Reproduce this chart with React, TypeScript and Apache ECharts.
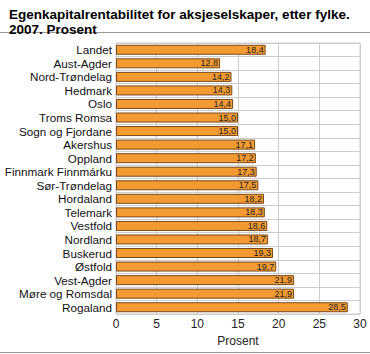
import React, { useEffect, useRef } from "react";
import * as echarts from "echarts";

const categories = [
  "Landet", "Aust-Agder", "Nord-Trøndelag", "Hedmark", "Oslo", "Troms Romsa",
  "Sogn og Fjordane", "Akershus", "Oppland", "Finnmark Finnmárku", "Sør-Trøndelag",
  "Hordaland", "Telemark", "Vestfold", "Nordland", "Buskerud", "Østfold",
  "Vest-Agder", "Møre og Romsdal", "Rogaland",
];
const values = [
  18.4, 12.8, 14.2, 14.3, 14.4, 15.0, 15.0, 17.1, 17.2, 17.3, 17.5,
  18.2, 18.3, 18.6, 18.7, 19.3, 19.7, 21.9, 21.9, 28.5,
];
const xTicks = [0, 5, 10, 15, 20, 25, 30];
const titleText = "Egenkapitalrentabilitet for aksjeselskaper, etter fylke.\n2007. Prosent";
const xName = "Prosent";

export default function App() {
  const ref = useRef<HTMLDivElement>(null);
  useEffect(() => {
    if (!ref.current) return;
    const chart = echarts.init(ref.current, null, { renderer: "svg" });
    chart.setOption({
      animation: false,
      backgroundColor: "#fff",
      textStyle: { fontFamily: "Liberation Sans, Arial, sans-serif" },
      title: {
        text: titleText,
        left: 4,
        top: 2,
        textStyle: { fontSize: 13.5, fontWeight: "bold", color: "#000", lineHeight: 15 },
      },
      graphic: [
        { type: "line", shape: { x1: 0, y1: 32.5, x2: 370, y2: 32.5 }, style: { stroke: "#999", lineWidth: 1 } },
        { type: "line", shape: { x1: 0, y1: 352.5, x2: 370, y2: 352.5 }, style: { stroke: "#999", lineWidth: 1 } },
      ],
      grid: { left: 116, right: 10, top: 43, bottom: 40, containLabel: false, show: true, borderColor: "#ccc", borderWidth: 1 },
      xAxis: {
        type: "value",
        min: xTicks[0],
        max: xTicks[xTicks.length - 1],
        interval: 5,
        name: xName,
        nameLocation: "middle",
        nameGap: 20,
        nameTextStyle: { fontSize: 12, color: "#222" },
        axisLine: { show: false },
        axisTick: { show: false },
        axisLabel: { fontSize: 12, color: "#222", margin: 4 },
        splitLine: { show: true, lineStyle: { color: "#ccc", width: 1 } },
      },
      yAxis: {
        type: "category",
        data: categories,
        inverse: true,
        axisLine: { show: false },
        axisTick: { show: false },
        axisLabel: { fontSize: 11.7, color: "#111", margin: 4, interval: 0 },
        splitLine: { show: true, interval: 0, lineStyle: { color: "#ccc", width: 1 } },
      },
      series: [
        {
          type: "bar",
          data: values,
          barWidth: 10,
          itemStyle: { color: "#F39B32", borderColor: "#7a4a1a", borderWidth: 1 },
          label: {
            show: true,
            position: "insideRight",
            distance: 2,
            fontSize: 9,
            color: "#222",
            formatter: (p: any) => Number(p.value).toFixed(1).replace(".", ","),
          },
        },
      ],
    });
    return () => chart.dispose();
  }, []);
  return (
    <div
      ref={ref}
      style={{ position: "fixed", left: 0, top: 0, width: 370, height: 354 }}
    />
  );
}
